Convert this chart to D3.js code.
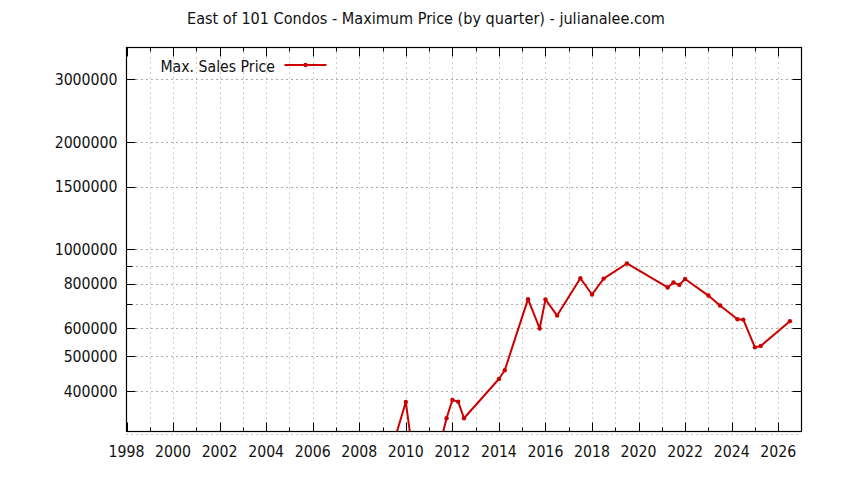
<!DOCTYPE html>
<html>
<head>
<meta charset="utf-8">
<script src="https://cdn.jsdelivr.net/npm/d3@7"></script>
<style>
  html, body { margin: 0; padding: 0; background: #fff; }
  svg { display: block; }
  text { font-family: "DejaVu Sans Condensed", "DejaVu Sans", sans-serif; fill: #111; }
</style>
</head>
<body>
<svg id="chart" width="844" height="480"></svg>
<script>
// ---- data ----
const titleText = "East of 101 Condos - Maximum Price (by quarter) - julianalee.com";
const seriesName = "Max. Sales Price";
const quarters = [2009.25, 2010.0, 2010.25, 2011.5, 2011.75, 2012.0, 2012.25, 2012.5,
  2014.0, 2014.25, 2015.25, 2015.75, 2016.0, 2016.5, 2017.5, 2018.0, 2018.5, 2019.5,
  2021.25, 2021.5, 2021.75, 2022.0, 2023.0, 2023.5, 2024.25, 2024.5, 2025.0, 2025.25, 2026.5];
const maxPrice = [255000, 372000, 282000, 288000, 335000, 377000, 373000, 335000,
  432000, 457000, 724000, 599000, 723000, 651000, 829000, 746000, 827000, 912000,
  781000, 806000, 794000, 825000, 741000, 695000, 636000, 634000, 530000, 535000, 628000];
const yLabelTicks = [400000, 500000, 600000, 800000, 1000000, 1500000, 2000000, 3000000];
const yMinorTicks = [700000, 900000];
const xLabelTicks = [1998, 2000, 2002, 2004, 2006, 2008, 2010, 2012, 2014, 2016, 2018, 2020, 2022, 2024, 2026];
const xGridYears = d3.range(1999, 2027);

// ---- layout ----
const L = 126.5, R = 801.5, T = 47.5, B = 431.5;
const FS = 15.7;
const svg = d3.select("#chart");
svg.append("rect").attr("width", 844).attr("height", 480).attr("fill", "#fff");

const x = d3.scaleLinear().domain([1998, 2027]).range([L, R]);
const y = d3.scaleLog().domain([307500, 3689000]).range([B, T]);

// grid: vertical
svg.append("g").selectAll("line").data(xGridYears).join("line")
  .attr("x1", d => Math.round(x(d)) + 0.5).attr("x2", d => Math.round(x(d)) + 0.5)
  .attr("y1", T).attr("y2", B)
  .attr("stroke", "#9a9a9a").attr("stroke-width", 1).attr("stroke-dasharray", "1,4");

// grid: horizontal
const hGrid = yLabelTicks.concat(yMinorTicks);
svg.append("g").selectAll("line").data(hGrid).join("line")
  .attr("x1", L).attr("x2", R)
  .attr("y1", d => Math.round(y(d)) + 0.5).attr("y2", d => Math.round(y(d)) + 0.5)
  .attr("stroke", "#555").attr("stroke-width", 1).attr("stroke-dasharray", "1,4");

// gridline just below the frame (300000)
svg.append("line")
  .attr("x1", L).attr("x2", R)
  .attr("y1", Math.round(y(300000)) - 0.5).attr("y2", Math.round(y(300000)) - 0.5)
  .attr("stroke", "#888").attr("stroke-width", 1).attr("stroke-dasharray", "1,4");

// ticks: y (left & right, inward)
const yAll = yLabelTicks.map(v => ({v, len: 9})).concat(yMinorTicks.map(v => ({v, len: 6})));
const tg = svg.append("g").attr("stroke", "#000").attr("stroke-width", 1);
yAll.forEach(t => {
  const yy = Math.round(y(t.v)) + 0.5;
  tg.append("line").attr("x1", L).attr("x2", L + t.len).attr("y1", yy).attr("y2", yy);
  tg.append("line").attr("x1", R).attr("x2", R - t.len).attr("y1", yy).attr("y2", yy);
});
// ticks: x (bottom & top, inward)
xLabelTicks.forEach(yr => {
  const xx = Math.round(x(yr)) + 0.5;
  tg.append("line").attr("x1", xx).attr("x2", xx).attr("y1", B).attr("y2", B - 9);
  tg.append("line").attr("x1", xx).attr("x2", xx).attr("y1", T).attr("y2", T + 9);
});
xGridYears.filter(yr => yr % 2 === 1).forEach(yr => {
  const xx = Math.round(x(yr)) + 0.5;
  tg.append("line").attr("x1", xx).attr("x2", xx).attr("y1", B).attr("y2", B - 4);
  tg.append("line").attr("x1", xx).attr("x2", xx).attr("y1", T).attr("y2", T + 4);
});

// labels
svg.append("g").selectAll("text").data(yLabelTicks).join("text")
  .attr("x", 117.5).attr("y", d => y(d)).attr("dy", "0.36em")
  .attr("text-anchor", "end").attr("font-size", FS)
  .text(d => String(d));
svg.append("g").selectAll("text").data(xLabelTicks).join("text")
  .attr("x", d => x(d)).attr("y", 456.5)
  .attr("text-anchor", "middle").attr("font-size", FS)
  .text(d => String(d));

// title
svg.append("text").attr("x", 426).attr("y", 24).attr("text-anchor", "middle")
  .attr("font-size", 16.1).text(titleText);

// data line, clipped to plot
svg.append("clipPath").attr("id", "plotclip").append("rect")
  .attr("x", L).attr("y", T).attr("width", R - L).attr("height", B - T);
const pts = quarters.map((q, i) => [q, maxPrice[i]]);
const red = "#cc0000";
const pg = svg.append("g").attr("clip-path", "url(#plotclip)");
pg.append("path").datum(pts)
  .attr("d", d3.line().x(d => x(d[0])).y(d => y(d[1])))
  .attr("fill", "none").attr("stroke", red).attr("stroke-width", 2)
  .attr("stroke-linejoin", "round");
pg.selectAll("circle").data(pts).join("circle")
  .attr("cx", d => x(d[0])).attr("cy", d => y(d[1])).attr("r", 2.2)
  .attr("fill", red);

// frame
svg.append("rect").attr("x", L).attr("y", T).attr("width", R - L).attr("height", B - T)
  .attr("fill", "none").attr("stroke", "#000").attr("stroke-width", 1.2);

// legend
svg.append("text").attr("x", 275).attr("y", 66).attr("dy", "0.36em")
  .attr("text-anchor", "end").attr("font-size", FS).text(seriesName);
svg.append("line").attr("x1", 284.5).attr("x2", 326.5).attr("y1", 65).attr("y2", 65)
  .attr("stroke", red).attr("stroke-width", 2);
svg.append("circle").attr("cx", 305.5).attr("cy", 65).attr("r", 2.2).attr("fill", red);
</script>
</body>
</html>
